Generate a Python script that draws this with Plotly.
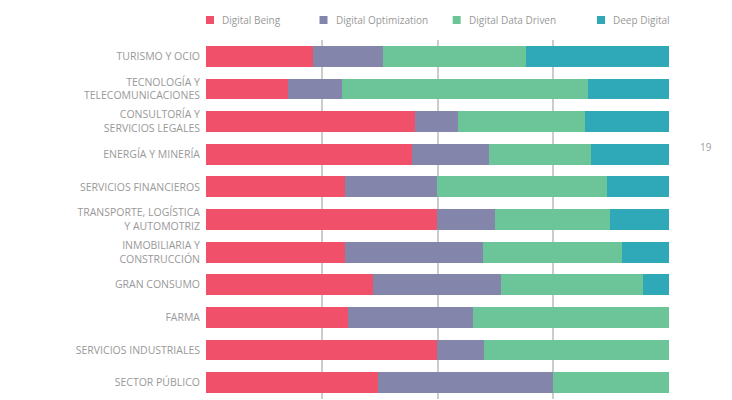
import plotly.graph_objects as go

categories = [
    "TURISMO Y OCIO",
    "TECNOLOGÍA Y<br>TELECOMUNICACIONES",
    "CONSULTORÍA Y<br>SERVICIOS LEGALES",
    "ENERGÍA Y MINERÍA",
    "SERVICIOS FINANCIEROS",
    "TRANSPORTE, LOGÍSTICA<br>Y AUTOMOTRIZ",
    "INMOBILIARIA Y<br>CONSTRUCCIÓN",
    "GRAN CONSUMO",
    "FARMA",
    "SERVICIOS INDUSTRIALES",
    "SECTOR PÚBLICO",
]
digital_being = [23.2, 17.7, 45.2, 44.5, 30.0, 49.9, 30.0, 36.1, 30.7, 49.9, 37.2]
digital_optimization = [15.1, 11.6, 9.3, 16.6, 19.9, 12.6, 29.9, 27.6, 26.9, 10.2, 37.7]
digital_data_driven = [30.8, 53.1, 27.4, 22.1, 36.8, 24.8, 30.0, 30.7, 42.4, 39.9, 25.1]
deep_digital = [30.9, 17.6, 18.1, 16.8, 13.3, 12.7, 10.1, 5.6, 0.0, 0.0, 0.0]

series_names = ["Digital Being", "Digital Optimization", "Digital Data Driven", "Deep Digital"]
series_values = [digital_being, digital_optimization, digital_data_driven, deep_digital]
colors = ["#F0506A", "#8385AB", "#6CC598", "#2FA8B8"]

page_label = "19"

# layout geometry (figure is offset 8px by the page body margin)
W, H = 724, 392
ML, MR, MT, MB = 198, 63, 32, 1
PW, PH = W - ML - MR, H - MT - MB


def px_to_paper(xv, yv):
    # viewport pixel -> paper coords
    return (xv - 8 - ML) / PW, 1 - (yv - 8 - MT) / PH


fig = go.Figure()
for name, vals, col in zip(series_names, series_values, colors):
    fig.add_trace(go.Bar(
        y=categories, x=vals, name=name, orientation="h",
        marker=dict(color=col, line=dict(width=0)),
        showlegend=False,
    ))

# custom legend (squares + labels)
legend_marker_x = [210, 323.5, 456.7, 601]
shapes, annotations = [], []
for name, col, mx in zip(series_names, colors, legend_marker_x):
    xp, yp = px_to_paper(mx, 20)
    shapes.append(dict(type="rect", xref="paper", yref="paper",
                       xsizemode="pixel", ysizemode="pixel",
                       xanchor=xp, yanchor=yp, x0=-4, x1=4, y0=-4, y1=4,
                       fillcolor=col, line=dict(width=0)))
    tx, ty = px_to_paper(mx + 10, 20)
    annotations.append(dict(text=name, x=tx, y=ty, xref="paper", yref="paper",
                            xanchor="left", yanchor="middle", showarrow=False,
                            font=dict(size=10, color="#999999")))

px, py = px_to_paper(706, 147)
annotations.append(dict(text=page_label, x=px, y=py, xref="paper", yref="paper",
                        xanchor="center", yanchor="middle", showarrow=False,
                        font=dict(size=10, color="#a0a0a0")))

fig.update_layout(
    width=W, height=H,
    barmode="stack", bargap=0.36,
    paper_bgcolor="white", plot_bgcolor="white",
    margin=dict(l=ML, r=MR, t=MT, b=MB),
    font=dict(family="Open Sans, sans-serif", color="#999999", size=10),
    showlegend=False,
    xaxis=dict(range=[0, 100], tickvals=[0, 25, 50, 75, 100], showticklabels=False,
               showgrid=True, gridcolor="#cccccc", gridwidth=1.5, zeroline=False,
               fixedrange=True),
    yaxis=dict(autorange="reversed", showgrid=False, ticks="", ticklabelstandoff=5,
               tickfont=dict(size=10.5, color="#999999"), fixedrange=True),
    shapes=shapes,
    annotations=annotations,
)

fig.write_html("out.html")
